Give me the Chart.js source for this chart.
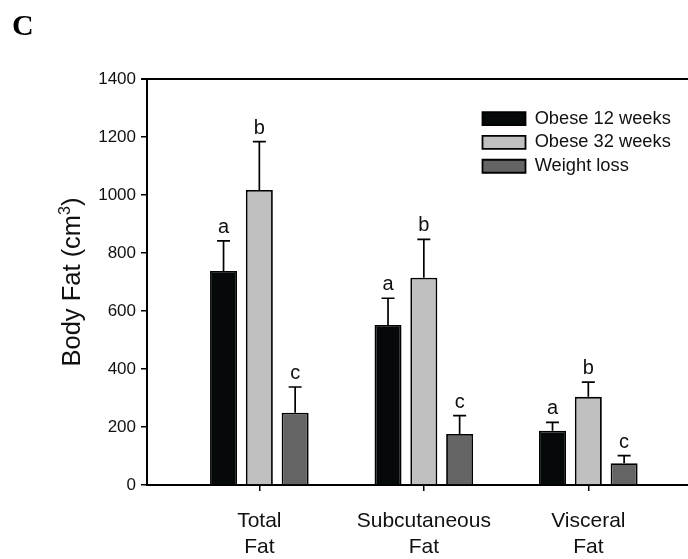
<!DOCTYPE html>
<html>
<head>
<meta charset="utf-8">
<script src="https://cdn.jsdelivr.net/npm/chart.js@4.4.0/dist/chart.umd.min.js"></script>
<style>
  html, body { margin: 0; padding: 0; background: #fff; }
  canvas { display: block; }
</style>
</head>
<body>
<canvas id="chart" width="688" height="559"></canvas>
<script>
// categories and series
const categories = [['Total', 'Fat'], ['Subcutaneous', 'Fat'], ['Visceral', 'Fat']];
const seriesNames = ['Obese 12 weeks', 'Obese 32 weeks', 'Weight loss'];
const obese12 = [738, 552, 187];
const obese12Err = [104, 92, 29];
const obese32 = [1017, 715, 304];
const obese32Err = [167, 132, 51];
const weightLoss = [249, 176, 75];
const weightLossErr = [89, 63, 26];
const groupLetters = ['a', 'b', 'c'];
const yTicks = [0, 200, 400, 600, 800, 1000, 1200, 1400];
const yTitle = ['Body Fat (cm', '3', ')'];
const panelLabel = 'C';

const family = '"Liberation Sans", Arial, sans-serif';

// bars sit on a linear x axis so the groups can start away from the y axis
const toPoints = (values) => values.map((v, i) => ({ x: i + 1, y: v }));

const errorBars = {
    id: 'errorBars',
    afterDatasetsDraw(chart) {
        const { ctx } = chart;
        const yScale = chart.scales.y;
        ctx.save();
        ctx.strokeStyle = '#000';
        ctx.lineWidth = 1.7;
        ctx.fillStyle = '#111';
        ctx.font = `20px ${family}`;
        ctx.textAlign = 'center';
        ctx.textBaseline = 'alphabetic';
        chart.data.datasets.forEach((ds, i) => {
            chart.getDatasetMeta(i).data.forEach((bar, j) => {
                const top = yScale.getPixelForValue(ds.data[j].y + ds.errors[j]);
                ctx.beginPath();
                ctx.moveTo(bar.x, bar.y);
                ctx.lineTo(bar.x, top);
                ctx.moveTo(bar.x - 6.5, top);
                ctx.lineTo(bar.x + 6.5, top);
                ctx.stroke();
                ctx.fillText(ds.letter, bar.x, top - 8);
            });
        });
        ctx.restore();
    }
};

const frame = {
    id: 'frame',
    afterLayout(chart) {
        // move the legend into the upper right of the plot
        chart.legend.left = 477;
        chart.legend.top = 104;
    },
    afterDraw(chart) {
        const { ctx, chartArea } = chart;
        ctx.save();
        ctx.strokeStyle = '#000';
        ctx.lineWidth = 2;
        ctx.beginPath();
        ctx.moveTo(chartArea.left - 6, chartArea.top);
        ctx.lineTo(chartArea.right, chartArea.top);
        ctx.stroke();

        // y axis title with a real superscript
        ctx.fillStyle = '#111';
        ctx.translate(80, (chartArea.top + chartArea.bottom) / 2);
        ctx.rotate(-Math.PI / 2);
        ctx.textAlign = 'left';
        ctx.textBaseline = 'alphabetic';
        ctx.font = `25.5px ${family}`;
        const w1 = ctx.measureText(yTitle[0]).width;
        const w3 = ctx.measureText(yTitle[2]).width;
        ctx.font = `16px ${family}`;
        const w2 = ctx.measureText(yTitle[1]).width;
        const x0 = -(w1 + w2 + w3) / 2;
        ctx.font = `25.5px ${family}`;
        ctx.fillText(yTitle[0], x0, 0);
        ctx.font = `16px ${family}`;
        ctx.fillText(yTitle[1], x0 + w1, -10);
        ctx.font = `25.5px ${family}`;
        ctx.fillText(yTitle[2], x0 + w1 + w2, 0);
        ctx.restore();

        ctx.save();
        ctx.fillStyle = '#000';
        ctx.font = `bold 30px "Liberation Serif", "Times New Roman", serif`;
        ctx.textBaseline = 'alphabetic';
        ctx.fillText(panelLabel, 12, 35);
        ctx.restore();
    }
};

new Chart(document.getElementById('chart'), {
    type: 'bar',
    data: {
        datasets: [{
            label: seriesNames[0],
            data: toPoints(obese12),
            errors: obese12Err,
            letter: groupLetters[0],
            backgroundColor: '#060909',
            borderColor: '#000',
            borderWidth: 1.8
        }, {
            label: seriesNames[1],
            data: toPoints(obese32),
            errors: obese32Err,
            letter: groupLetters[1],
            backgroundColor: '#c0c0c0',
            borderColor: '#000',
            borderWidth: 1.8
        }, {
            label: seriesNames[2],
            data: toPoints(weightLoss),
            errors: weightLossErr,
            letter: groupLetters[2],
            backgroundColor: '#646464',
            borderColor: '#000',
            borderWidth: 1.8
        }]
    },
    options: {
        responsive: false,
        animation: false,
        devicePixelRatio: 1,
        categoryPercentage: 0.653,
        barPercentage: 0.754,
        layout: { padding: { top: 79, right: 0, bottom: 0, left: 0 } },
        plugins: {
            tooltip: { enabled: false },
            legend: {
                position: 'chartArea',
                align: 'start',
                labels: {
                    boxWidth: 43,
                    boxHeight: 13,
                    padding: 5.5,
                    color: '#111',
                    font: { family, size: 18.3 }
                }
            }
        },
        scales: {
            x: {
                type: 'linear',
                offset: false,
                min: 0.317,
                max: 3.606,
                afterBuildTicks: (s) => { s.ticks = categories.map((c, i) => ({ value: i + 1 })); },
                afterFit: (s) => { s.height = 74; },
                grid: { offset: false, drawOnChartArea: false, tickLength: 6, color: '#000', lineWidth: 1.5 },
                border: { color: '#000', width: 2 },
                ticks: {
                    callback: (v) => categories[v - 1],
                    color: '#111',
                    padding: 18,
                    maxRotation: 0,
                    autoSkip: false,
                    font: { family, size: 21, lineHeight: 1.2 }
                }
            },
            y: {
                min: 0,
                max: 1400,
                afterBuildTicks: (s) => { s.ticks = yTicks.map(v => ({ value: v })); },
                afterFit: (s) => { s.width = 147; },
                grid: { drawOnChartArea: false, tickLength: 6, color: '#000', lineWidth: 1.5 },
                border: { color: '#000', width: 2 },
                ticks: {
                    callback: (v) => String(v),
                    color: '#111',
                    padding: 5,
                    font: { family, size: 17 }
                }
            }
        }
    },
    plugins: [errorBars, frame]
});
</script>
</body>
</html>
